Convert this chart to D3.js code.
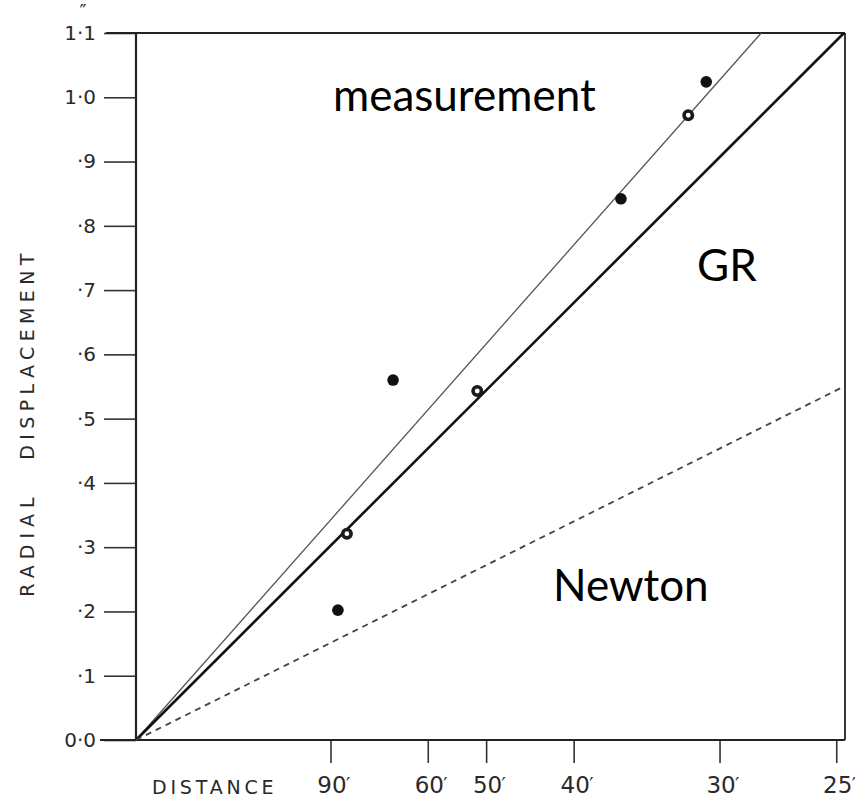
<!DOCTYPE html>
<html>
<head>
<meta charset="utf-8">
<script src="https://cdn.jsdelivr.net/npm/d3@7"></script>
<style>
  body { margin: 0; background: #fff; }
  svg { display: block; }
  .axis text { font-family: "DejaVu Sans", "Liberation Sans", sans-serif; fill: #2a2a2a; }
  .title { font-family: "DejaVu Sans", "Liberation Sans", sans-serif; fill: #2a2a2a; }
  .note { font-family: Lato, "Open Sans", sans-serif; fill: #000; }
</style>
</head>
<body>
<div class="chart"></div>
<script>
// star distances from the sun's centre (arcmin) and measured radial displacement (arcsec)
var distances = [86.7, 83.0, 68.1, 51.3, 36.1, 31.7, 30.7];
var displacements = [0.202, 0.321, 0.560, 0.543, 0.842, 0.972, 1.024];
var markerKinds = ['filled', 'ring', 'filled', 'ring', 'filled', 'ring', 'filled'];

// lines: displacement = coefficient / distance
var lineNames = ['measurement', 'GR', 'Newton'];
var lineCoefficients = [30.8, 27.2, 13.6];

var xTickDistances = [90, 60, 50, 40, 30, 25];
var yTickValues = [0, 0.1, 0.2, 0.3, 0.4, 0.5, 0.6, 0.7, 0.8, 0.9, 1.0, 1.1];
var yTickLabels = ['0·0', '·1', '·2', '·3', '·4', '·5', '·6', '·7', '·8', '·9', '1·0', '1·1'];

var width = 855, height = 800;
var plot = {left: 136, right: 845, top: 33, bottom: 740};

var uMax = 0.0405; // 1 / distance at the right edge
var x = d3.scaleLinear().domain([0, uMax]).range([plot.left, plot.right]);
var y = d3.scaleLinear().domain([0, 1.1]).range([plot.bottom, plot.top]);

var svg = d3.select('.chart').append('svg')
  .attr('width', width)
  .attr('height', height);

// axes
var yAxis = d3.axisLeft(y)
  .tickValues(yTickValues)
  .tickFormat((d, i) => yTickLabels[i])
  .tickSize(32)
  .tickPadding(8);

var gY = svg.append('g')
  .attr('class', 'axis')
  .attr('transform', `translate(${plot.left}, 0)`)
  .call(yAxis);
gY.select('.domain').remove();
gY.selectAll('line').attr('stroke', '#333').attr('stroke-width', 1.6);
gY.selectAll('text').attr('font-size', 20);

var xAxis = d3.axisBottom(x)
  .tickValues(xTickDistances.map(d => 1 / d))
  .tickFormat((d, i) => `${xTickDistances[i]}`)
  .tickSize(23)
  .tickPadding(14);

var gX = svg.append('g')
  .attr('class', 'axis')
  .attr('transform', `translate(0, ${plot.bottom})`)
  .call(xAxis);
gX.select('.domain').remove();
gX.selectAll('line').attr('stroke', '#333').attr('stroke-width', 1.6);
gX.selectAll('text')
  .attr('font-size', 23)
  .attr('dx', 1);
// arc-minute mark after each distance
gX.selectAll('.tick').append('text')
  .attr('x', 15)
  .attr('y', 38)
  .attr('dy', '0.71em')
  .attr('font-size', 19)
  .attr('text-anchor', 'start')
  .attr('fill', '#2a2a2a')
  .text('′');

// frame
var frame = svg.append('g')
  .attr('fill', 'none')
  .attr('stroke', '#222');
frame.append('line')
  .attr('x1', plot.left).attr('x2', plot.left)
  .attr('y1', plot.top).attr('y2', plot.bottom)
  .attr('stroke-width', 2.2);
frame.append('line')
  .attr('x1', 100).attr('x2', plot.right)
  .attr('y1', plot.bottom).attr('y2', plot.bottom)
  .attr('stroke-width', 2.2);
frame.append('line')
  .attr('x1', 106).attr('x2', plot.right)
  .attr('y1', plot.top).attr('y2', plot.top)
  .attr('stroke-width', 1.8);
frame.append('line')
  .attr('x1', plot.right).attr('x2', plot.right)
  .attr('y1', plot.top).attr('y2', plot.bottom)
  .attr('stroke-width', 1.8);

// unit mark above the top label
svg.append('text')
  .attr('class', 'title')
  .attr('x', 83).attr('y', 18)
  .attr('text-anchor', 'middle')
  .attr('font-size', 19)
  .text('″');

// axis titles
svg.append('text')
  .attr('class', 'title')
  .attr('x', 152).attr('y', 794)
  .attr('font-size', 19)
  .attr('letter-spacing', 3.8)
  .text('DISTANCE');

svg.append('text')
  .attr('class', 'title')
  .attr('transform', 'translate(34, 544) rotate(-90)')
  .attr('text-anchor', 'middle')
  .attr('font-size', 19)
  .attr('letter-spacing', 6)
  .text('RADIAL');

svg.append('text')
  .attr('class', 'title')
  .attr('transform', 'translate(34, 354) rotate(-90)')
  .attr('text-anchor', 'middle')
  .attr('font-size', 19)
  .attr('letter-spacing', 5.4)
  .text('DISPLACEMENT');

// the three lines, from the origin to where they leave the frame
var lineStyles = {
  measurement: {width: 1.3, color: '#555', dash: null},
  GR: {width: 2.6, color: '#111', dash: null},
  Newton: {width: 1.8, color: '#444', dash: '6,5'}
};

var line = d3.line()
  .x(d => x(d[0]))
  .y(d => y(d[1]));

svg.append('g').selectAll('path')
  .data(lineNames.map((name, i) => ({name: name, k: lineCoefficients[i]})))
  .enter().append('path')
    .attr('d', d => {
      var uEnd = Math.min(uMax, 1.1 / d.k);
      return line([[0, 0], [uEnd, d.k * uEnd]]);
    })
    .attr('fill', 'none')
    .attr('stroke', d => lineStyles[d.name].color)
    .attr('stroke-width', d => lineStyles[d.name].width)
    .attr('stroke-dasharray', d => lineStyles[d.name].dash);

// measured stars
var points = distances.map((d, i) => ({u: 1 / d, v: displacements[i], kind: markerKinds[i]}));

svg.append('g').selectAll('circle')
  .data(points)
  .enter().append('circle')
    .attr('cx', d => x(d.u))
    .attr('cy', d => y(d.v))
    .attr('r', d => d.kind === 'filled' ? 5.8 : 4.2)
    .attr('fill', d => d.kind === 'filled' ? '#111' : '#fff')
    .attr('stroke', '#1a1a1a')
    .attr('stroke-width', d => d.kind === 'filled' ? 0 : 3.6);

// annotations
var notes = [
  {text: 'measurement', x: 333, y: 111},
  {text: 'GR', x: 697, y: 281},
  {text: 'Newton', x: 553, y: 601}
];
svg.append('g').selectAll('text')
  .data(notes)
  .enter().append('text')
    .attr('class', 'note')
    .attr('x', d => d.x)
    .attr('y', d => d.y)
    .attr('font-size', 44)
    .text(d => d.text);
</script>
</body>
</html>
